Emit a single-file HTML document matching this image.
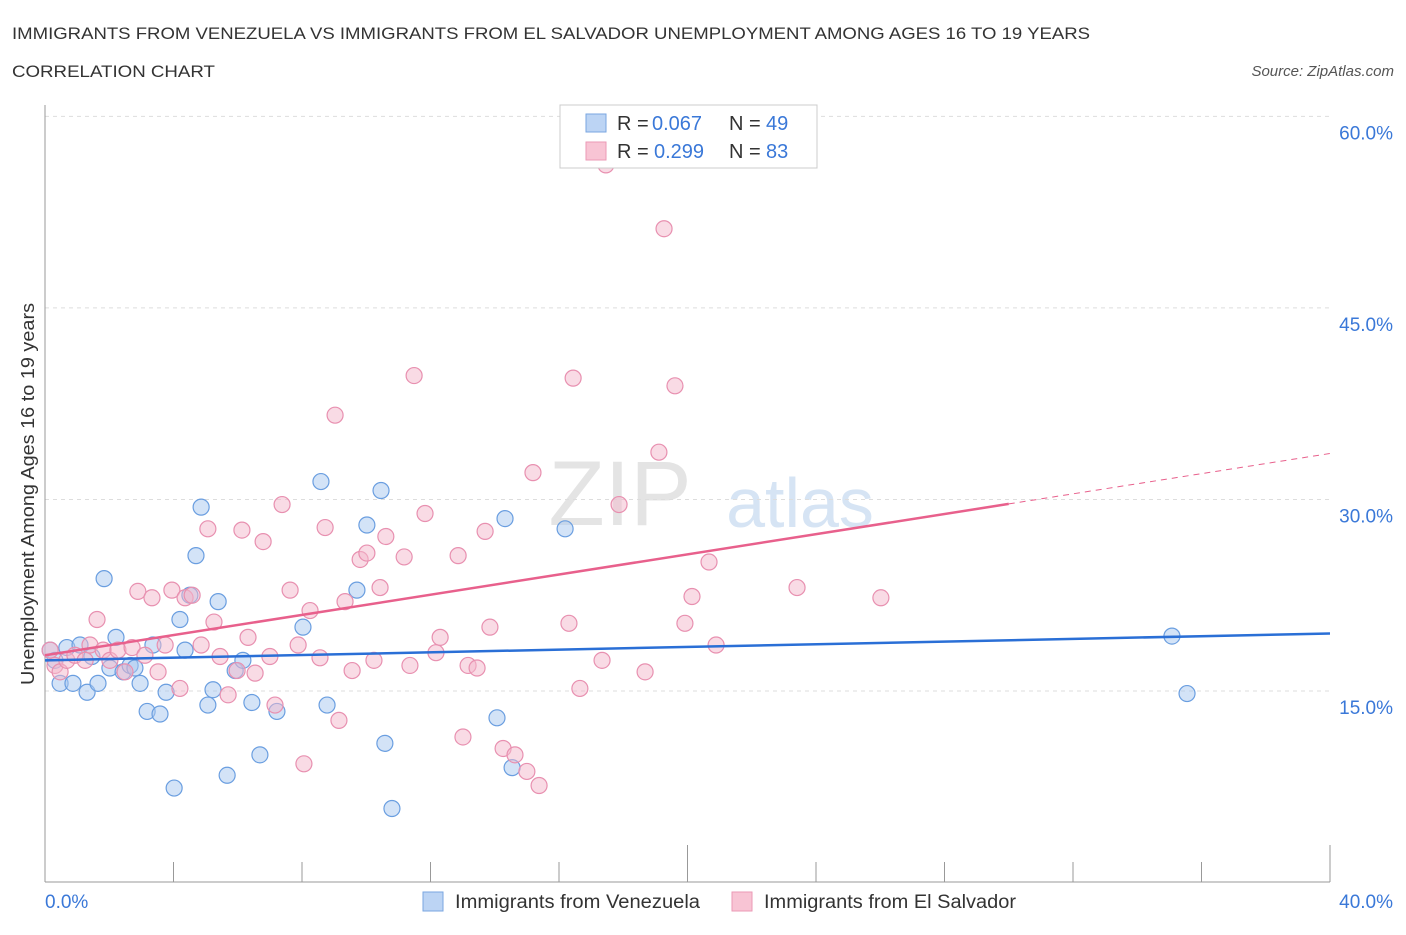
<!DOCTYPE html>
<html><head><meta charset="utf-8"><style>
body{margin:0;background:#fff;font-family:"Liberation Sans",sans-serif;}
svg text{font-family:"Liberation Sans",sans-serif;}
</style></head><body>
<svg id="chart" width="1406" height="930">
<text x="12" y="39" font-size="17" fill="#333" textLength="1078" lengthAdjust="spacingAndGlyphs">IMMIGRANTS FROM VENEZUELA VS IMMIGRANTS FROM EL SALVADOR UNEMPLOYMENT AMONG AGES 16 TO 19 YEARS</text>
<text x="12" y="77" font-size="17" fill="#333" textLength="203" lengthAdjust="spacingAndGlyphs">CORRELATION CHART</text>
<text x="1394" y="76" font-size="15" fill="#555" font-style="italic" text-anchor="end">Source: ZipAtlas.com</text>
<text x="620" y="525" font-size="92" fill="#e4e4e4" font-family="Liberation Serif" text-anchor="middle">ZIP</text>
<text x="800" y="527" font-size="70" fill="#d6e4f4" text-anchor="middle">atlas</text>
<text transform="translate(34,494) rotate(-90)" font-size="18" fill="#333" text-anchor="middle" textLength="382" lengthAdjust="spacingAndGlyphs">Unemployment Among Ages 16 to 19 years</text>
<g id="grid"></g><g id="marks"></g>
<g>
<rect x="560" y="105" width="257" height="63" fill="#fff" stroke="#ccc"/>
<rect x="586" y="114" width="20" height="18" fill="#bcd4f4" stroke="#7aa6e0"/>
<rect x="586" y="142" width="20" height="18" fill="#f8c4d4" stroke="#eb9ab6"/>
<text x="617" y="130" font-size="20" fill="#333">R =</text><text x="652" y="130" font-size="20" fill="#3a78d8">0.067</text>
<text x="729" y="130" font-size="20" fill="#333">N =</text><text x="766" y="130" font-size="20" fill="#3a78d8">49</text>
<text x="617" y="158" font-size="20" fill="#333">R =</text><text x="654" y="158" font-size="20" fill="#3a78d8">0.299</text>
<text x="729" y="158" font-size="20" fill="#333">N =</text><text x="766" y="158" font-size="20" fill="#3a78d8">83</text>
</g>
<g>
<rect x="423" y="892" width="20" height="19" fill="#bcd4f4" stroke="#7aa6e0"/>
<text x="455" y="908" font-size="19" fill="#333" textLength="245" lengthAdjust="spacingAndGlyphs">Immigrants from Venezuela</text>
<rect x="732" y="892" width="20" height="19" fill="#f8c4d4" stroke="#eb9ab6"/>
<text x="764" y="908" font-size="19" fill="#333" textLength="252" lengthAdjust="spacingAndGlyphs">Immigrants from El Salvador</text>
</g>
</svg>
<script>
const yTicks=[15,30,45,60];
const yTickLabels=["15.0%","30.0%","45.0%","60.0%"];
const xTickVals=[0,4,8,12,16,20,24,28,32,36,40];
const blueX=[0.16,0.31,0.47,0.68,0.87,1.09,1.31,1.46,1.65,1.84,2.02,2.21,2.43,2.65,2.80,2.96,3.18,3.36,3.58,3.77,4.02,4.20,4.36,4.51,4.70,4.86,5.07,5.23,5.39,5.67,5.92,6.16,6.44,6.69,7.22,8.03,8.59,8.78,9.71,10.02,10.46,10.58,10.80,14.07,14.32,14.54,16.19,35.08,35.55];
const blueY=[18.2,17.4,15.6,18.4,15.6,18.6,14.9,17.7,15.6,23.8,16.8,19.2,16.5,17.0,16.8,15.6,13.4,18.6,13.2,14.9,7.4,20.6,18.2,22.5,25.6,29.4,13.9,15.1,22.0,8.4,16.6,17.4,14.1,10.0,13.4,20.0,31.4,13.9,22.9,28.0,30.7,10.9,5.8,12.9,28.5,9.0,27.7,19.3,14.8];
const pinkX=[0.16,0.31,0.47,0.68,0.93,1.25,1.40,1.62,1.81,2.02,2.27,2.49,2.71,2.89,3.11,3.33,3.52,3.74,3.95,4.20,4.36,4.58,4.86,5.07,5.26,5.45,5.70,5.98,6.13,6.32,6.54,6.79,7.00,7.16,7.38,7.63,7.88,8.06,8.25,8.56,8.72,9.03,9.15,9.34,9.56,9.81,10.02,10.24,10.43,10.61,11.18,11.36,11.49,11.83,12.17,12.30,12.86,13.01,13.17,13.45,13.70,13.85,14.26,14.63,15.00,15.19,15.38,16.31,16.44,16.65,17.34,17.46,17.87,18.68,19.11,19.27,19.61,19.92,20.14,20.67,20.89,23.41,26.02];
const pinkY=[18.2,17.0,16.5,17.4,17.8,17.4,18.6,20.6,18.2,17.4,18.2,16.5,18.4,22.8,17.8,22.3,16.5,18.6,22.9,15.2,22.3,22.5,18.6,27.7,20.4,17.7,14.7,16.6,27.6,19.2,16.4,26.7,17.7,13.9,29.6,22.9,18.6,9.3,21.3,17.6,27.8,36.6,12.7,22.0,16.6,25.3,25.8,17.4,23.1,27.1,25.5,17.0,39.7,28.9,18.0,19.2,25.6,11.4,17.0,16.8,27.5,20.0,10.5,10.0,8.7,32.1,7.6,20.3,39.5,15.2,17.4,56.2,29.6,16.5,33.7,51.2,38.9,20.3,22.4,25.1,18.6,23.1,22.3];
const blueTrend=[17.4,19.5];
const pinkTrend=[17.8,33.6];
const pinkSolidEnd=30;
const NS="http://www.w3.org/2000/svg";
const X=v=>45+v/40*1285;
const Y=v=>691-(v-15)*12.77;
function mk(p,t,a){const e=document.createElementNS(NS,t);for(const k in a)e.setAttribute(k,a[k]);p.appendChild(e);return e;}
const g=document.getElementById('grid'),m=document.getElementById('marks');
yTicks.forEach((t,i)=>{
 const l=mk(g,'line',{x1:45,x2:1330,y1:Y(t),y2:Y(t),stroke:'#ddd','stroke-dasharray':'4,4'});
 
 
 const tx=mk(g,'text',{x:1393,y:Y(t)+23,'font-size':19,fill:'#3a78d8','text-anchor':'end'});
 tx.textContent=yTickLabels[i];
 
 
});
mk(g,'line',{x1:45,x2:45,y1:105,y2:882,stroke:'#999'});
mk(g,'line',{x1:45,x2:1330,y1:882,y2:882,stroke:'#999'});
xTickVals.forEach((t,i)=>{
 if(i===0)return;
 const tk=mk(g,'line',{x1:X(t),x2:X(t),y1:i===5||i===10?845:862,y2:882,stroke:'#999'});
 
 
});
const x0=mk(g,'text',{x:45,y:908,'font-size':19,fill:'#3a78d8'});x0.textContent='0.0%';


const x1=mk(g,'text',{x:1393,y:908,'font-size':19,fill:'#3a78d8','text-anchor':'end'});x1.textContent='40.0%';


function pts(xs,ys,fill,stroke,name){xs.forEach((x,i)=>{
 const c=mk(m,'circle',{cx:X(x),cy:Y(ys[i]),r:8,fill:fill,'fill-opacity':0.5,stroke:stroke,'stroke-width':1.2});
 
 
});}
pts(blueX,blueY,'#a8c8f0','#6a9ee0','point-venezuela');
pts(pinkX,pinkY,'#f4b8cc','#e890b0','point-el-salvador');
const tb=mk(m,'line',{x1:X(0),y1:Y(blueTrend[0]),x2:X(40),y2:Y(blueTrend[1]),stroke:'#2a6fd6','stroke-width':2.5});


const py=v=>pinkTrend[0]+(pinkTrend[1]-pinkTrend[0])*v/40;
const tp=mk(m,'line',{x1:X(0),y1:Y(py(0)),x2:X(pinkSolidEnd),y2:Y(py(pinkSolidEnd)),stroke:'#e8608c','stroke-width':2.5});


const td=mk(m,'line',{x1:X(pinkSolidEnd),y1:Y(py(pinkSolidEnd)),x2:X(40),y2:Y(py(40)),stroke:'#e8608c','stroke-width':1,'stroke-dasharray':'6,5'});


</script>
</body></html>
